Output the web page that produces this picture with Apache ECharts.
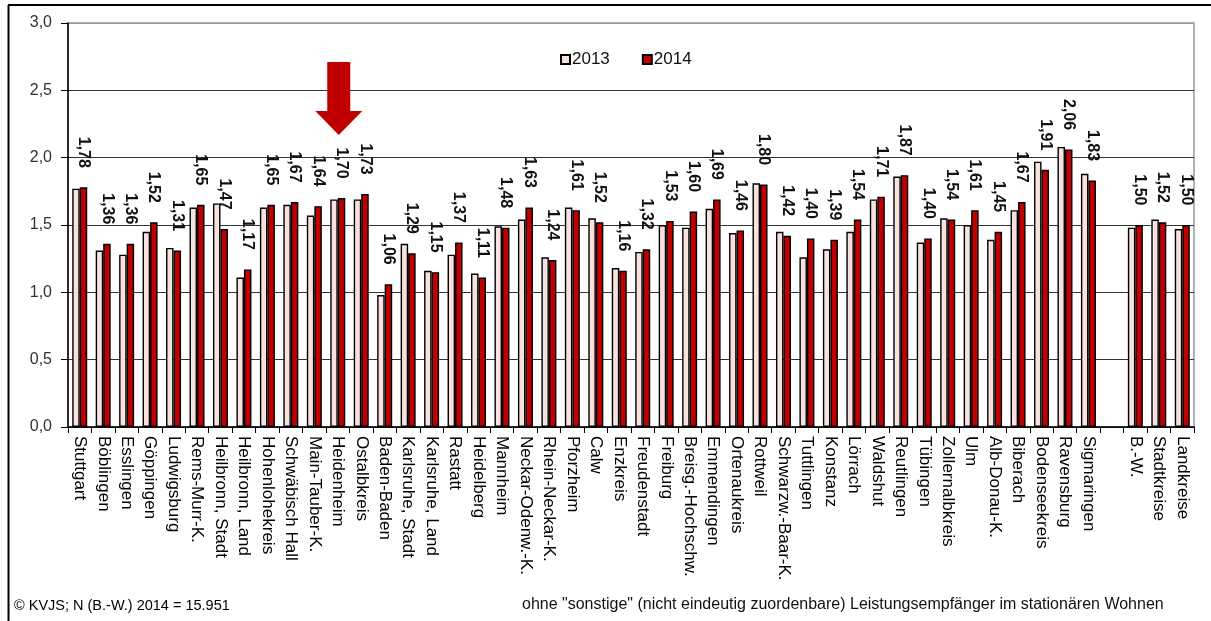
<!DOCTYPE html>
<html>
<head>
<meta charset="utf-8">
<script src="https://cdn.jsdelivr.net/npm/echarts@6/dist/echarts.min.js"></script>
<style>
html,body{margin:0;padding:0;background:#fff;}
#c{width:1211px;height:621px;}
</style>
</head>
<body>
<div id="c"></div>
<script>
const categories = ["Stuttgart","Böblingen","Esslingen","Göppingen","Ludwigsburg","Rems-Murr-K.","Heilbronn, Stadt","Heilbronn, Land","Hohenlohekreis","Schwäbisch Hall","Main-Tauber-K.","Heidenheim","Ostalbkreis","Baden-Baden","Karlsruhe, Stadt","Karlsruhe, Land","Rastatt","Heidelberg","Mannheim","Neckar-Odenw.-K.","Rhein-Neckar-K.","Pforzheim","Calw","Enzkreis","Freudenstadt","Freiburg","Breisg.-Hochschw.","Emmendingen","Ortenaukreis","Rottweil","Schwarzw.-Baar-K.","Tuttlingen","Konstanz","Lörrach","Waldshut","Reutlingen","Tübingen","Zollernalbkreis","Ulm","Alb-Donau-K.","Biberach","Bodenseekreis","Ravensburg","Sigmaringen","","B.-W.","Stadtkreise","Landkreise"];
const values2013 = [1.77,1.31,1.28,1.45,1.33,1.63,1.66,1.11,1.63,1.65,1.57,1.69,1.69,0.98,1.36,1.16,1.28,1.14,1.49,1.54,1.26,1.63,1.55,1.18,1.30,1.50,1.48,1.62,1.44,1.81,1.45,1.26,1.32,1.45,1.69,1.86,1.37,1.55,1.50,1.39,1.61,1.97,2.08,1.88,null,1.48,1.54,1.47];
const values2014 = [1.78,1.36,1.36,1.52,1.31,1.65,1.47,1.17,1.65,1.67,1.64,1.70,1.73,1.06,1.29,1.15,1.37,1.11,1.48,1.63,1.24,1.61,1.52,1.16,1.32,1.53,1.60,1.69,1.46,1.80,1.42,1.40,1.39,1.54,1.71,1.87,1.40,1.54,1.61,1.45,1.67,1.91,2.06,1.83,null,1.50,1.52,1.50];
const yTicks = [0,0.5,1,1.5,2,2.5,3];
const seriesNames = ["2013","2014"];
const highlighted = "Heidenheim";
const footerLeft = "© KVJS; N (B.-W.) 2014 = 15.951";
const footerRight = 'ohne "sonstige" (nicht eindeutig zuordenbare) Leistungsempfänger im stationären Wohnen';

const FONT = '"Liberation Sans", Arial, sans-serif';
const chart = echarts.init(document.getElementById('c'), null, {renderer:'canvas'});
const option = {
  backgroundColor:'#fff',
  animation:false,
  textStyle:{fontFamily:FONT},
  grid:{left:68,right:17,top:23,bottom:194,show:true,borderColor:'#999',borderWidth:1.5,backgroundColor:'transparent'},
  legend:{
    data:seriesNames, left:555, top:46, itemWidth:9, itemHeight:9, itemGap:32,
    icon:'rect',
    textStyle:{fontSize:17,color:'#111',fontFamily:FONT,padding:[0,0,0,-3]}
  },
  xAxis:{
    type:'category', data:categories,
    axisLine:{show:true,lineStyle:{color:'#000',width:1.5}},
    axisTick:{show:true,length:6,lineStyle:{color:'#000'}},
    axisLabel:{interval:0,rotate:-90,fontSize:17,color:'#000',margin:9,fontFamily:FONT},
    splitLine:{show:false}
  },
  yAxis:{
    type:'value', min:yTicks[0], max:yTicks[yTicks.length-1], interval:0.5,
    axisLine:{show:true,lineStyle:{color:'#000',width:1.5}},
    axisTick:{show:true,length:7,lineStyle:{color:'#000'}},
    axisLabel:{fontSize:16,color:'#333',margin:16,fontFamily:FONT,formatter:v=>v.toFixed(1).replace('.',',')},
    splitLine:{show:true,lineStyle:{color:['#333','#333','#333','#333','#333','#333','#999'],width:1.2}}
  },
  series:[
    {name:seriesNames[0],type:'bar',data:values2013,barWidth:7.5,barGap:'0%',
     itemStyle:{color:'#f8e2de',borderColor:'#000',borderWidth:1.4}},
    {name:seriesNames[1],type:'bar',data:values2014,barWidth:7.5,
     itemStyle:{color:'#c00000',borderColor:'#000',borderWidth:1.4},
     label:{show:true,position:'top',distance:16,rotate:-90,align:'right',verticalAlign:'middle',
       offset:[-3.5,0],fontSize:16,fontWeight:'bold',color:'#111',fontFamily:FONT,
       formatter:p=>p.value==null?'':p.value.toFixed(2).replace('.',',')}}
  ]
};
chart.setOption(option);

function drawGraphics(){
  const idx = categories.indexOf(highlighted);
  const p = chart.convertToPixel({xAxisIndex:0,yAxisIndex:0},[idx,0]);
  const cx = p[0]+1;
  chart.setOption({graphic:[
    {type:'line',shape:{x1:8,y1:5,x2:1211,y2:5},style:{stroke:'#000',lineWidth:2},z:10},
    {type:'line',shape:{x1:8.5,y1:5,x2:8.5,y2:621},style:{stroke:'#000',lineWidth:2},z:10},
    {type:'polygon',shape:{points:[[cx-11.5,62],[cx+11.5,62],[cx+11.5,111],[cx+23.5,111],[cx,135],[cx-23.5,111],[cx-11.5,111]]},
     style:{fill:'#c00000'},z:10},
    {type:'text',left:14,top:598,style:{text:footerLeft,fontSize:14.5,fill:'#000',fontFamily:FONT}},
    {type:'text',left:522,top:597,style:{text:footerRight,fontSize:16,fill:'#111',fontFamily:FONT}}
  ]});
}
drawGraphics();
</script>
</body>
</html>
